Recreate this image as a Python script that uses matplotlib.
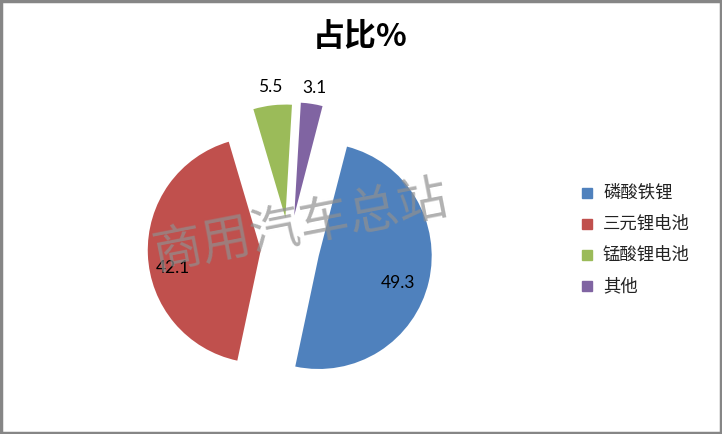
import numpy as np
import matplotlib.pyplot as plt
from matplotlib.patches import Rectangle

plt.rcParams['font.family'] = ['Noto Sans CJK SC', 'DejaVu Sans']

# data
categories = ['磷酸铁锂', '三元锂电池', '锰酸锂电池', '其他']
shares = [49.3, 42.1, 5.5, 3.1]
value_labels = ['49.3', '42.1', '5.5', '3.1']
colors = ['#4F81BD', '#C0504D', '#9BBB59', '#8064A2']
explode = [0.27, 0.25, 0.28, 0.30]
label_dist = [0.74, 0.79, 1.16, 1.14]
label_turn = [-5.5, 9.0, 0.0, 0.0]  # degrees, shift of label from slice middle

fig = plt.figure(figsize=(7.22, 4.34), dpi=100)
R_PX = 113  # pie radius in pixels
CX, CY = 289, 434 - 249  # pie centre in pixels
LIM = 1.6
ax = fig.add_axes([(CX - LIM * R_PX) / 722, (CY - LIM * R_PX) / 434,
                   2 * LIM * R_PX / 722, 2 * LIM * R_PX / 434])

wedges, _ = ax.pie(shares, colors=colors, explode=explode, startangle=75.5,
                   counterclock=False, radius=1.0, frame=True,
                   wedgeprops=dict(linewidth=0))
ax.set_xlim(-LIM, LIM)
ax.set_ylim(-LIM, LIM)
ax.set_aspect('equal')
ax.axis('off')

for w, txt, d, t in zip(wedges, value_labels, label_dist, label_turn):
    mid = np.deg2rad((w.theta1 + w.theta2) / 2 + t)
    cx, cy = w.center
    ax.text(cx + d * np.cos(mid), cy + d * np.sin(mid), txt, ha='center', va='center',
            fontsize=12.5, family=['Lato', 'DejaVu Sans'], color='black')

# watermark
fig.text(301 / 722, 1 - 226 / 434, '商用汽车总站', rotation=11, ha='center', va='center',
         fontsize=36, color='#909090', alpha=0.7, fontweight='light')

fig.text(360 / 722, 1 - 37 / 434, '占比%', ha='center', va='center',
         fontsize=23, fontweight='bold')

# legend
for i, (c, name) in enumerate(zip(colors, categories)):
    y = 1 - (193 + 31 * i) / 434
    fig.patches.append(Rectangle((582 / 722, y - 5 / 434), 10 / 722, 10 / 434,
                                 transform=fig.transFigure, color=c))
    fig.text(603 / 722, y, name, ha='left', va='center', fontsize=12.5, color='#222222')

# border
fig.patches.append(Rectangle((0.5 / 722, 1 / 434), 720 / 722, 432 / 434, transform=fig.transFigure,
                             fill=False, edgecolor='#868686', linewidth=2.5))

fig.savefig('out.png', dpi=100)
